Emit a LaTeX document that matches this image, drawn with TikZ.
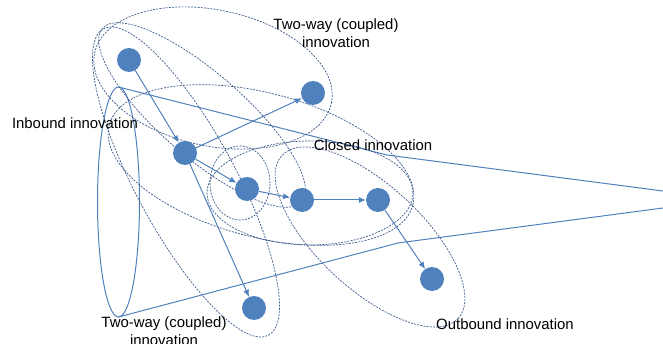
\documentclass[tikz,border=0pt]{standalone}
\usepackage{fontspec}
\setmainfont{Liberation Sans}
\usetikzlibrary{arrows.meta}
\definecolor{nodeblue}{HTML}{4F81BD}
\definecolor{ringblue}{HTML}{3A5A8C}
\begin{document}
\begin{tikzpicture}[x=1pt,y=-1pt,
  dot/.style={circle,fill=nodeblue,draw=none,minimum size=24pt,inner sep=0pt},
  flow/.style={draw=nodeblue,line width=1pt,-{Latex[length=7pt,width=6pt]}},
  funnel/.style={draw=nodeblue,line width=1pt},
  ring/.style={draw=ringblue,line width=0.7pt,dash pattern=on 2pt off 1.2pt},
  lbl/.style={font=\fontsize{14.9}{18}\selectfont,text=black,inner sep=0pt,align=center}]
\useasboundingbox (0,0) rectangle (663,344);

% innovation funnel
\coordinate (ftop) at (118.5,87);
\coordinate (fbot) at (118.5,317);
\coordinate (fupper) at (387,155);
\coordinate (flower) at (398,243);
\coordinate (fendtop) at (663,191);
\coordinate (fendbot) at (663,208);
\draw[funnel] (118.5,202) ellipse [x radius=21pt, y radius=115pt];
\draw[funnel] (ftop) -- (fupper) -- (fendtop);
\draw[funnel] (fbot) -- (flower) -- (fendbot);

% dashed groupings
\draw[ring, rotate around={-12:(213,78)}] (213,78) ellipse [x radius=121pt, y radius=68pt];
\draw[ring, rotate around={-61.7:(186,182)}] (186,182) ellipse [x radius=174pt, y radius=50pt];
\draw[ring, rotate around={-41:(202,115)}] (202,115) ellipse [x radius=132pt, y radius=42pt];
\draw[ring, rotate around={-14.8:(261,165)}] (261,165) ellipse [x radius=157pt, y radius=72pt];
\draw[ring] (240,183) ellipse [x radius=30pt, y radius=37pt];
\draw[ring] (310,193) ellipse [x radius=103pt, y radius=52pt];
\draw[ring, rotate around={-42.8:(370,237)}] (370,237) ellipse [x radius=120pt, y radius=52pt];

% actors
\node[dot] (A) at (129,60) {};
\node[dot] (B) at (185,153) {};
\node[dot] (C) at (313,93) {};
\node[dot] (D) at (247,189) {};
\node[dot] (E) at (302,200) {};
\node[dot] (F) at (378,200) {};
\node[dot] (G) at (432,279) {};
\node[dot] (H) at (254,308) {};

\draw[flow] (A) -- (B);
\draw[flow] (B) -- (C);
\draw[flow] (B) -- (D);
\draw[flow] (B) -- (H);
\draw[flow] (D) -- (E);
\draw[flow] (E) -- (F);
\draw[flow] (F) -- (G);

% labels
\node[lbl] (ltop) at (336,33) {Two-way (coupled)\\innovation};
\node[lbl] (lin) at (75,123) {Inbound innovation};
\node[lbl] (lclosed) at (373,145) {Closed innovation};
\node[lbl] (lout) at (505,324) {Outbound innovation};
\node[lbl] (lbot) at (164,331) {Two-way (coupled)\\innovation};
\end{tikzpicture}
\end{document}
